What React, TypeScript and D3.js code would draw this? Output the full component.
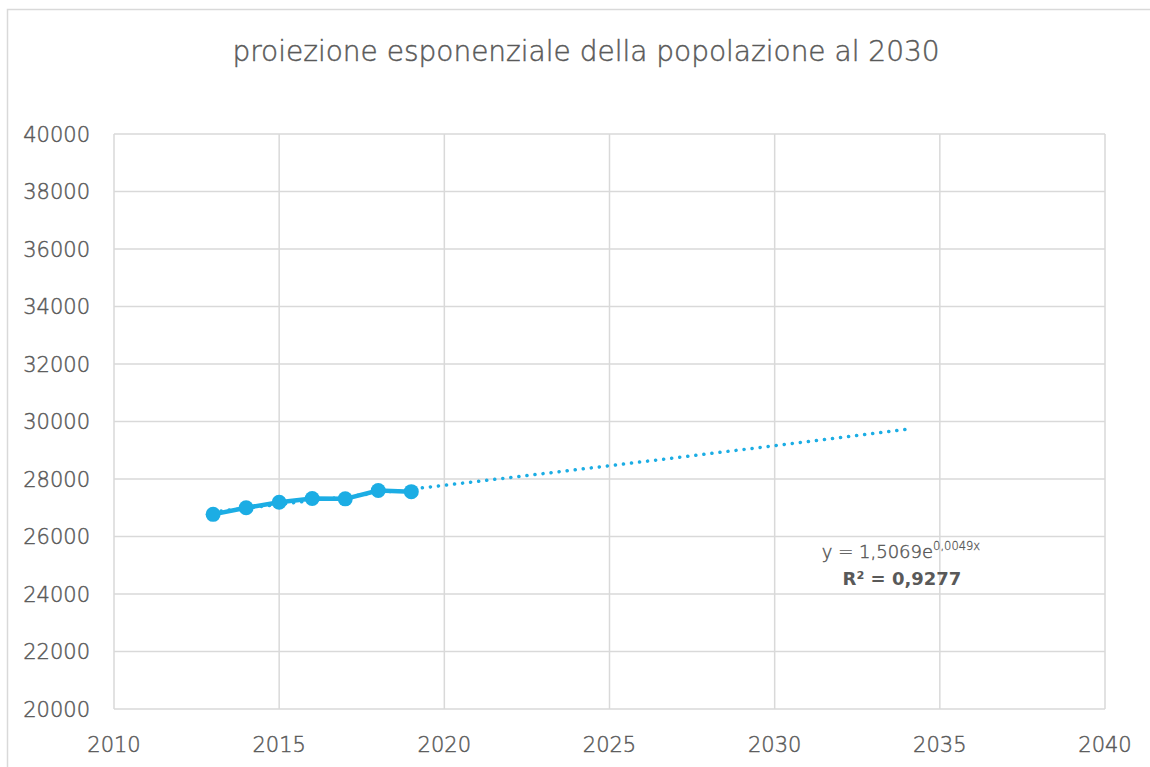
import React from 'react';
import { scaleLinear, line, range } from 'd3';

// data
const years = [2013, 2014, 2015, 2016, 2017, 2018, 2019];
const population = [26770, 27000, 27190, 27320, 27310, 27600, 27560];
const xTicks = [2010, 2015, 2020, 2025, 2030, 2035, 2040];
const yTicks = [20000, 22000, 24000, 26000, 28000, 30000, 32000, 34000, 36000, 38000, 40000];
const forecastYears = 15; // trendline forward periods
const title = 'proiezione esponenziale della popolazione al 2030';
const eqLabel = 'y = 1,5069e';
const eqExp = '0,0049x';
const r2Label = 'R² = 0,9277';

const W = 1150;
const H = 767;
const margin = { left: 114, right: 45, top: 134, bottom: 58 };
const BLUE = '#1CADE4';
const TEXT = '#595959';
const GRID = '#D9D9D9';
const FONT = '"DejaVu Sans", sans-serif';

// exponential least squares fit (like excel trendline)
function expFit(xs: number[], ys: number[]) {
  const n = xs.length;
  const ly = ys.map(v => Math.log(v));
  const mx = xs.reduce((a, b) => a + b, 0) / n;
  const my = ly.reduce((a, b) => a + b, 0) / n;
  let sxy = 0, sxx = 0;
  xs.forEach((x, i) => { sxy += (x - mx) * (ly[i] - my); sxx += (x - mx) * (x - mx); });
  const b = sxy / sxx;
  const a = my - b * mx;
  return (x: number) => Math.exp(a + b * x);
}

export default function App() {
  const x = scaleLinear().domain([2010, 2040]).range([margin.left, W - margin.right]);
  const y = scaleLinear().domain([20000, 40000]).range([H - margin.bottom, margin.top]);

  const fit = expFit(years, population);
  const trendX = range(years[0], years[years.length - 1] + forecastYears + 0.001, 0.25);
  const trendPath = line<number>().x(d => x(d)).y(d => y(fit(d)))(trendX) || '';

  const pts = years.map((yr, i) => ({ yr, v: population[i] }));
  const dataPath = line<{ yr: number; v: number }>().x(d => x(d.yr)).y(d => y(d.v))(pts) || '';

  // thin face + hairline stroke so it reads like the original weight
  const txt = { fill: TEXT, stroke: TEXT, strokeWidth: 0.45 };

  return (
    <svg width={W} height={H} style={{ position: 'absolute', left: 0, top: 0, background: '#fff' }} fontFamily={FONT} fontWeight={300}>
      <rect x={7.5} y={9.5} width={W + 20} height={H + 20} fill="#fff" stroke={GRID} strokeWidth={1.5} />
      <text x={586} y={61} textAnchor="middle" fontSize={28} {...txt}>{title}</text>

      {/* grid */}
      {yTicks.map(t => (
        <line key={'gy' + t} x1={x(2010)} x2={x(2040)} y1={y(t)} y2={y(t)} stroke={GRID} strokeWidth={1.5} />
      ))}
      {xTicks.map(t => (
        <line key={'gx' + t} x1={x(t)} x2={x(t)} y1={y(20000)} y2={y(40000)} stroke={GRID} strokeWidth={1.5} />
      ))}

      {/* tick labels */}
      {yTicks.map(t => (
        <text key={'ty' + t} x={x(2010) - 24} y={y(t)} dy="0.36em" textAnchor="end" fontSize={21} {...txt}>{t}</text>
      ))}
      {xTicks.map(t => (
        <text key={'tx' + t} x={x(t)} y={y(20000) + 43} textAnchor="middle" fontSize={21} {...txt}>{t}</text>
      ))}

      {/* trendline */}
      <path d={trendPath} fill="none" stroke={BLUE} strokeWidth={3.5} strokeDasharray="0.1 8" strokeLinecap="round" />

      {/* series */}
      <path d={dataPath} fill="none" stroke={BLUE} strokeWidth={4.5} strokeLinejoin="round" />
      {pts.map(p => (
        <circle key={p.yr} cx={x(p.yr)} cy={y(p.v)} r={7.5} fill={BLUE} />
      ))}

      {/* trendline label */}
      <text x={901} y={558} textAnchor="middle" fontSize={18} {...txt}>
        {eqLabel}
        <tspan fontSize={11.5} dy={-8} strokeWidth={0.3}>{eqExp}</tspan>
      </text>
      <text x={902} y={585} textAnchor="middle" fontSize={18} fontWeight="bold" fill={TEXT}>{r2Label}</text>
    </svg>
  );
}
